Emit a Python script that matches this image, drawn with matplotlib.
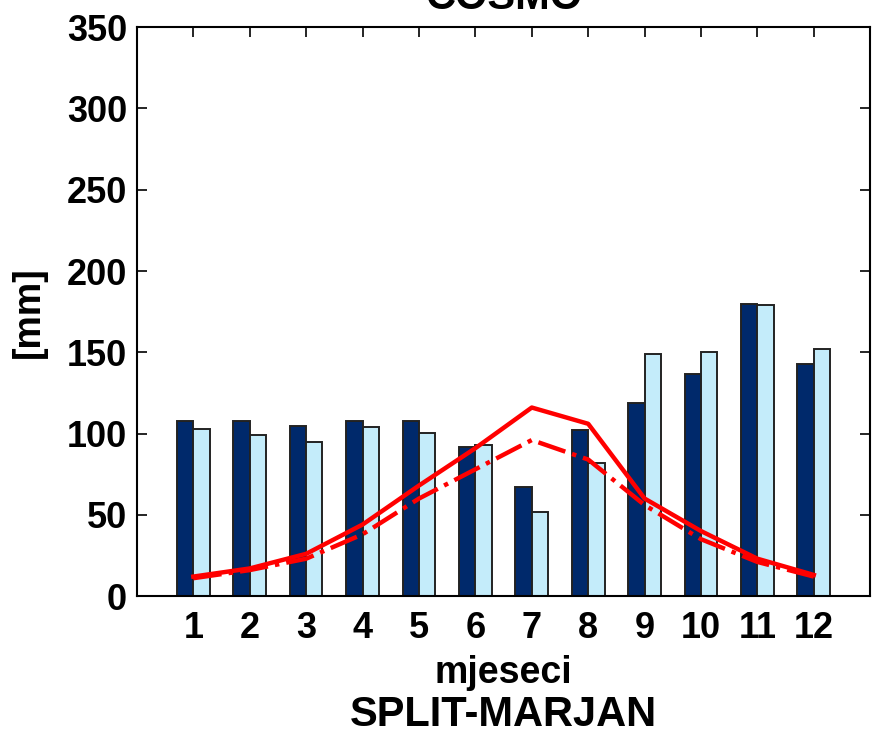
import numpy as np
import matplotlib
matplotlib.use("Agg")
import matplotlib.pyplot as plt

# Monthly precipitation, Split-Marjan
months = [1, 2, 3, 4, 5, 6, 7, 8, 9, 10, 11, 12]
obs_bars = [108, 108, 104.5, 108, 108, 92, 67, 102, 119, 136.5, 180, 143]
model_bars = [103, 99, 95, 104, 100.5, 93, 52, 82, 149, 150, 179, 152]
line_solid = [12, 17, 26, 44, 68, 91, 116, 106, 60, 40, 23, 13]
line_dashdot = [11, 16, 23, 38, 60, 78, 96, 84, 56, 35, 21, 12]
yticks = [0, 50, 100, 150, 200, 250, 300, 350]

plt.rcParams['font.family'] = ['Liberation Sans', 'DejaVu Sans']
plt.rcParams['font.weight'] = 'bold'

fig = plt.figure(figsize=(8.72, 7.35), dpi=100)
ax = fig.add_axes([0.157, 0.189, 0.841, 0.774])

# Grouped bars
x = np.array(months)
w = 0.29
ax.bar(x - w / 2, obs_bars, width=w, color='#00296b', edgecolor='#222222', linewidth=1.4, zorder=2)
ax.bar(x + w / 2, model_bars, width=w, color='#c4ecfa', edgecolor='#222222', linewidth=1.4, zorder=2)

# Red curves
ax.plot(x, line_solid, color='#ff0000', linewidth=3.2, linestyle='-', zorder=3)
ax.plot(x, line_dashdot, color='#ff0000', linewidth=3.2, linestyle='-.', zorder=3)

# Axes and ticks
ax.set_xlim(0, 13)
ax.set_ylim(0, 350)
ax.set_xticks(months)
ax.set_yticks(yticks)
ax.tick_params(direction='in', length=7, width=1.2, top=True, right=True,
               labelsize=26)
ax.tick_params(axis='x', pad=11)
ax.tick_params(axis='y', pad=7)
for lab in ax.get_xticklabels() + ax.get_yticklabels():
    lab.set_fontweight('bold')
for s in ax.spines.values():
    s.set_linewidth(1.5)

# Labels and titles
ax.set_ylabel('[mm]', fontsize=27, fontweight='bold', labelpad=14)
ax.set_xlabel('mjeseci', fontsize=27, fontweight='bold', labelpad=6)
ax.set_title('COSMO', fontsize=30, fontweight='bold', pad=13)
fig.text(0.577, 0.0, 'SPLIT-MARJAN', fontsize=30, fontweight='bold',
         ha='center', va='bottom')

plt.savefig('out.png', dpi=100)
